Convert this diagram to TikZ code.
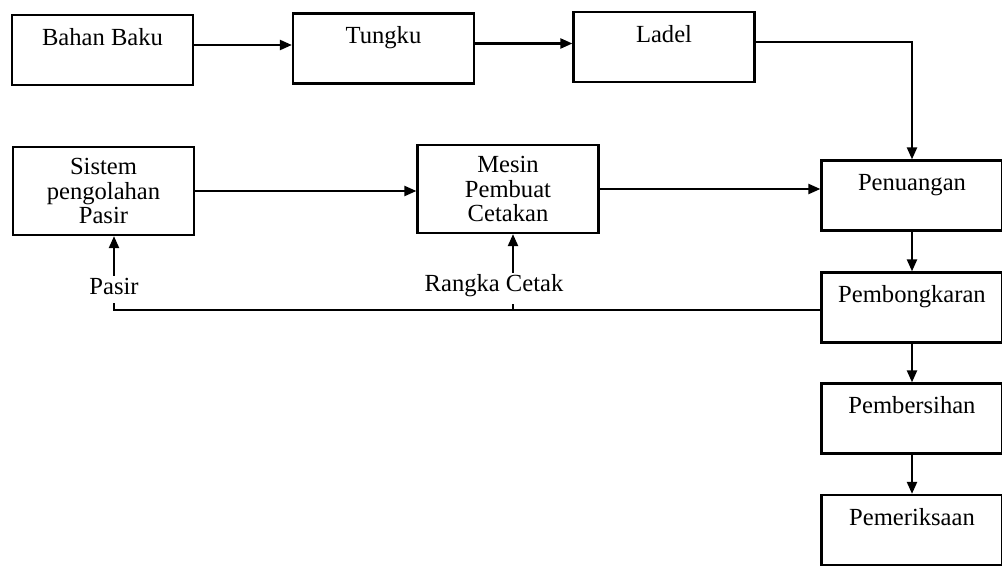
\documentclass[tikz,border=0pt]{standalone}
\usepackage{fontspec}
\setmainfont{Liberation Serif}
\usetikzlibrary{arrows.meta}
\tikzset{
  kotak/.style={draw,line width=1.3pt,minimum width=3.62cm,inner sep=0pt,text height=0.6cm,text depth=0.8cm},
  kotakb/.style={draw,line width=1.3pt,minimum width=3.62cm,minimum height=1.76cm,inner sep=0pt,align=center},
  ket/.style={inner sep=1pt},
  panah/.style={line width=1.3pt,-{Triangle[length=0.24cm,width=0.2cm]}},
  garis/.style={line width=1.3pt}
}

\begin{document}
\begin{tikzpicture}[x=0.02cm,y=-0.02cm,font=\fontsize{14pt}{13.7pt}\selectfont]
    \useasboundingbox (0,0) rectangle (1002,568);

    % baris atas
    \node[kotak] (bahan) at (102.5,50) {Bahan Baku};
    \node[kotak] (tungku) at (383.5,48.5) {Tungku};
    \node[kotak] (ladel) at (664,47) {Ladel};

    % baris tengah
    \node[kotakb] (sistem) at (103.5,191) {Sistem\\pengolahan\\Pasir};
    \node[kotakb] (mesin) at (508,189) {Mesin\\Pembuat\\Cetakan};

    % kolom kanan
    \node[kotak] (tuang) at (912,195.5) {Penuangan};
    \node[kotak] (bongkar) at (912,307.5) {Pembongkaran};
    \node[kotak] (bersih) at (912,418.5) {Pembersihan};
    \node[kotak] (periksa) at (912,530) {Pemeriksaan};

    \node[ket] (pasir) at (114,286) {Pasir};
    \node[ket] (rangka) at (494,286) {Rangka Cetak};
    \coordinate (balik) at ([yshift=-0.05cm]bongkar.west);

    \draw[panah] ([yshift=0.1cm]bahan.east) -- ([yshift=0.1cm]bahan.east -| tungku.west);
    \draw[panah] ([yshift=0.1cm]tungku.east) -- ([yshift=0.1cm]tungku.east -| ladel.west);
    \draw[panah] ([yshift=0.1cm]ladel.east) -| (tuang.north);
    \draw[panah] (sistem.east) -- (sistem.east -| mesin.west);
    \draw[panah] (mesin.east) -- (mesin.east -| tuang.west);
    \draw[panah] (tuang.south) -- (bongkar.north);
    \draw[panah] (bongkar.south) -- (bersih.north);
    \draw[panah] (bersih.south) -- (periksa.north);

    % aliran balik
    \draw[panah] (pasir.north) -- (pasir.north |- sistem.south);
    \draw[panah] ([xshift=0.38cm]rangka.north) -- ([xshift=0.38cm]rangka.north |- mesin.south);
    \draw[garis] (balik) -| ([yshift=-0.14cm]pasir.south);
    \draw[garis] ([xshift=0.38cm]rangka.south |- balik) -- ([xshift=0.38cm,yshift=-0.1cm]rangka.south);
\end{tikzpicture}
\end{document}
